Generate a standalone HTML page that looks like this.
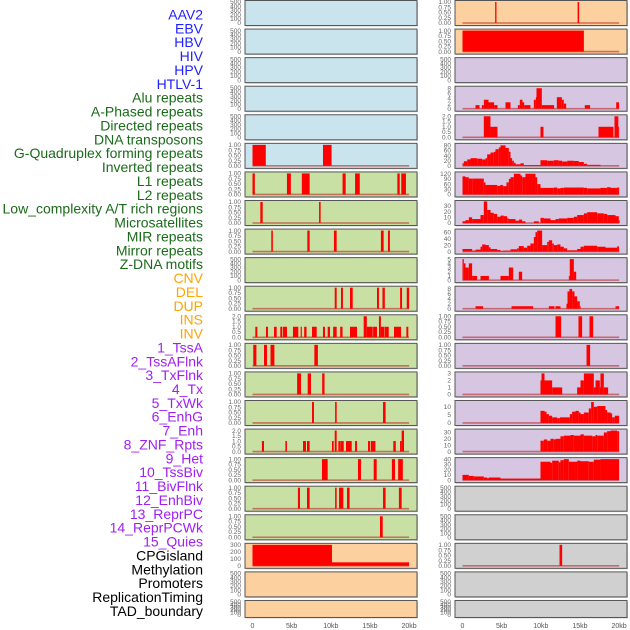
<!DOCTYPE html>
<html><head><meta charset="utf-8"><style>
html,body{margin:0;padding:0;background:#fff;}
svg{display:block;font-family:"Liberation Sans",sans-serif;}
</style></head><body>
<svg id="chart" width="630" height="630" viewBox="0 0 630 630" xmlns="http://www.w3.org/2000/svg"></svg>
<script>
const T500=['0','100','200','300','400','500'];
const T1=['0.00','0.25','0.50','0.75','1.00'];
const T2=['0.0','0.5','1.0','1.5','2.0'];
const labelNames=['AAV2','EBV','HBV','HIV','HPV','HTLV-1','Alu repeats','A-Phased repeats','Directed repeats','DNA transposons','G-Quadruplex forming repeats','Inverted repeats','L1 repeats','L2 repeats','Low_complexity A/T rich regions','Microsatellites','MIR repeats','Mirror repeats','Z-DNA motifs','CNV','DEL','DUP','INS','INV','1_TssA','2_TssAFlnk','3_TxFlnk','4_Tx','5_TxWk','6_EnhG','7_Enh','8_ZNF_Rpts','9_Het','10_TssBiv','11_BivFlnk','12_EnhBiv','13_ReprPC','14_ReprPCWk','15_Quies','CPGisland','Methylation','Promoters','ReplicationTiming','TAD_boundary'];
const labelGroups=['virus','virus','virus','virus','virus','virus','repeat','repeat','repeat','repeat','repeat','repeat','repeat','repeat','repeat','repeat','repeat','repeat','repeat','sv','sv','sv','sv','sv','chrom','chrom','chrom','chrom','chrom','chrom','chrom','chrom','chrom','chrom','chrom','chrom','chrom','chrom','chrom','other','other','other','other','other'];
// panels in column-major order (left column rows 0-21, right column rows 0-21)
const panelTicks=[T500,T500,T500,T500,T500,T1,T1,T1,T1,T500,T1,T2,T1,T1,T1,T2,T1,T1,T1,['0','100','200','300'],T500,T500,
 T1,T1,T500,['0','2','4','6','8'],T2,['0','20','40','60','80'],['0','30','60','90','120'],['0','10','20','30'],['0','20','40','60'],['0','1','2','3','4','5'],['0','2','4','6','8'],T1,T1,['0','1','2','3'],['0','5','10'],['0','10','20','30'],['0','10','20','30','40'],T500,T500,T1,T500,T500];
const panelMax=[500,500,500,500,500,1,1,1,1,500,1,2,1,1,1,2,1,1,1,300,500,500,
 1,1,500,8.2,2,82,122,37,65,5,8.5,1,1,3,13,33,40,500,500,1,500,500];
const panelBars=[
 [],[],[],[],[],
 [[0,1.7,1],[9.0,10.1,1]],
 [[0,0.3,1],[4.4,4.9,1],[6.3,7.3,1],[11.5,11.9,1],[13.1,13.7,1],[18.5,18.8,1],[19.0,19.6,1]],
 [[1.0,1.3,1],[8.5,8.7,1]],
 [[2.4,2.6,1],[7.0,7.3,1],[10.4,10.75,1],[16.4,16.75,1],[17.3,17.55,1]],
 [],
 [[10.5,10.75,1],[11.3,11.55,1],[12.45,12.8,1],[15.9,16.15,1],[16.6,16.9,1],[18.85,19.1,1],[19.7,20.0,1]],
 [[0.36,0.62,1],[1.72,1.98,1],[2.75,3.09,1],[3.55,3.81,1],[3.9,4.4,1],[5.17,5.85,1],[6.15,6.3,1],[6.6,6.9,1],[7.6,8.2,1],[9.0,9.26,1],[9.6,9.9,1],[10.3,10.75,1],[11.2,11.5,1],[12.45,13.35,1],[14.2,14.6,2],[14.6,15.35,1],[15.4,15.9,1],[16.15,16.4,2],[16.4,16.8,1],[16.85,17.4,1],[18.07,18.97,1],[19.65,19.9,1]],
 [[0.1,0.5,1],[1.47,1.85,1],[2.3,2.8,1],[7.9,8.35,1]],
 [[5.7,6.2,1],[7.05,7.47,1],[8.9,9.2,1]],
 [[7.6,7.85,1],[10.55,10.75,1],[16.67,17.0,1]],
 [[1.2,1.47,1],[4.2,4.4,1],[6.45,6.83,1],[6.96,7.3,1],[10.15,10.37,1],[10.5,10.75,2],[10.96,11.17,1],[11.2,11.65,1],[11.94,12.67,1],[13.1,13.35,1],[14.75,15.0,1],[15.1,15.7,1],[17.98,18.3,1],[18.84,19.05,1],[19.05,19.35,2]],
 [[8.87,9.6,1],[13.47,13.86,1],[15.48,15.86,1],[17.8,18.2,1],[18.6,19.2,1]],
 [[5.8,6.07,1],[6.96,7.3,1],[10.55,10.75,1],[11.05,11.6,1],[12.07,12.4,1],[16.67,17.0,1],[18.7,19.05,1]],
 [[16.28,16.63,1]],
 [[0,10.15,300],[10.15,20.0,50]],
 [],[],
 [[4.17,4.34,1],[14.7,14.9,1]],
 [[0,15.5,1]],
 [],
 [[1.66,2.17,1.4],[2.47,2.73,1.4],[2.73,3.32,3.5],[3.32,4.04,2.5],[4.04,4.47,1.4],[5.49,6.13,2.5],[7.07,7.32,1.4],[7.32,7.66,3.5],[7.66,7.88,2.5],[7.88,8.68,1.4],[9.11,9.37,3.5],[9.37,9.45,4.5],[9.45,10.13,8],[10.13,11.7,1.4],[12.05,12.69,4.5],[12.69,12.94,3.5],[12.94,13.24,2],[15.62,16.3,1.4],[19.63,20.0,2.5]],
 [[2.72,3.57,2],[3.57,4.47,1],[9.96,10.34,1],[17.37,19.28,1],[19.41,19.9,2],[19.9,20.0,1]],
 [[0,0.17,10],[0.17,0.6,18],[0.6,1.02,25],[1.02,1.87,30],[1.87,2.51,28],[2.51,2.94,25],[2.94,3.15,30],[3.15,3.58,45],[3.58,4.0,52],[4.0,4.21,55],[4.21,4.64,65],[4.64,4.85,72],[4.85,5.49,80],[5.49,5.92,70],[5.92,6.13,55],[6.13,6.34,30],[6.34,6.56,20],[6.56,6.77,12],[6.77,7.41,6],[7.41,7.83,10],[7.83,9.96,3],[9.96,10.81,22],[10.81,11.66,20],[11.66,12.3,22],[12.3,12.73,20],[12.73,13.37,17],[13.37,14.22,20],[14.22,14.86,19],[14.86,15.5,15],[15.5,15.92,8],[15.92,17.62,4]],
 [[0,0.38,105],[0.38,0.81,100],[0.81,1.23,92],[1.23,2.72,92],[2.72,2.94,70],[2.94,4.43,55],[4.43,4.85,50],[4.85,5.19,55],[5.19,5.62,48],[5.62,5.92,70],[5.92,6.13,90],[6.13,6.56,100],[6.56,7.41,120],[7.41,7.62,110],[7.62,8.04,100],[8.04,9.32,120],[9.32,9.54,100],[9.54,9.96,60],[9.96,11.66,38],[11.66,12.09,40],[12.09,12.51,35],[12.51,12.94,38],[12.94,15.5,40],[15.5,15.92,38],[15.92,17.62,35],[17.62,18.47,38],[18.47,18.9,42],[18.9,19.75,38],[19.75,20.0,40]],
 [[0,0.38,3],[0.38,0.81,5],[0.81,1.23,10],[1.23,2.3,7],[2.3,2.72,14],[2.72,3.15,38],[3.15,3.58,23],[3.58,4.0,18],[4.0,4.43,16],[4.43,4.85,11],[4.85,5.28,13],[5.28,5.7,12],[5.7,5.92,8],[5.92,6.77,7],[6.77,7.19,4],[7.19,7.62,6],[7.62,8.04,3],[9.11,9.75,3],[9.96,10.39,9],[10.39,11.24,8],[11.24,11.88,5],[11.88,12.3,7],[12.3,13.37,8],[13.37,14.22,9],[14.22,14.64,11],[14.64,15.5,14],[15.5,15.92,17],[15.92,17.2,19],[17.2,18.05,17],[18.05,18.47,16],[18.47,19.54,14],[19.54,19.96,12],[19.96,20.0,5]],
 [[0,1.23,8],[1.23,1.66,3],[1.66,2.3,6],[2.3,2.51,15],[2.51,2.94,22],[2.94,3.37,20],[3.37,3.58,13],[3.58,4.43,8],[4.43,4.85,5],[4.85,5.19,2],[5.19,6.13,3],[6.13,6.98,7],[6.98,7.19,10],[7.19,7.83,17],[7.83,8.26,12],[8.26,8.68,18],[8.68,9.11,25],[9.11,9.32,45],[9.32,9.54,60],[9.54,10.17,65],[10.17,10.81,20],[10.81,11.03,30],[11.03,11.45,35],[11.45,11.66,25],[11.66,12.09,20],[12.09,12.51,22],[12.51,12.94,15],[12.94,13.37,10],[13.37,14.64,4],[14.64,15.07,8],[15.07,15.5,15],[15.5,17.2,18],[17.2,18.26,15],[18.26,19.75,12],[19.75,20.0,16]],
 [[0,0.17,5],[0.17,0.38,4],[0.38,0.81,3],[0.81,1.23,4],[1.23,1.87,1],[2.3,3.37,1],[4.85,5.92,1],[5.92,6.47,3],[7.19,7.62,2],[13.58,13.7,1],[13.7,14.22,5],[14.22,14.52,2]],
 [[1.66,2.64,1],[6.26,9.03,1],[11.03,11.75,1],[11.88,12.51,1],[13.28,13.41,2],[13.41,13.66,7],[13.66,14.0,8],[14.0,14.3,7],[14.3,14.64,5],[14.64,14.98,3],[14.98,15.07,1],[19.54,20.0,1]],
 [[11.88,12.6,1],[14.81,15.28,1],[16.22,16.69,1]],
 [[15.84,16.3,1]],
 [[9.96,10.09,2],[10.09,10.47,3],[10.47,11.45,2],[11.45,12.73,1],[14.64,15.07,1],[15.07,15.5,2],[15.5,16.77,3],[16.77,16.99,1],[16.99,17.54,2],[17.54,17.62,1],[17.62,18.05,3],[18.05,18.6,1]],
 [[9.96,10.47,7.5],[10.47,10.73,7],[10.73,11.03,5.5],[11.03,11.45,4.5],[11.45,12.09,3.5],[12.09,12.43,3],[12.43,13.71,3.5],[13.71,14.0,5.5],[14.0,14.43,7],[14.43,14.86,7.5],[14.86,15.07,6.5],[15.07,15.5,5.5],[15.5,16.13,6.5],[16.13,16.43,9],[16.43,16.77,13],[16.77,17.2,10],[17.2,18.26,10.5],[18.26,18.47,8],[18.47,18.9,6.5],[18.9,19.11,6],[19.11,19.45,3.5],[19.45,20.0,4.5]],
 [[9.96,10.39,17],[10.39,10.81,19],[10.81,11.24,17],[11.24,11.66,20],[11.66,11.88,19],[11.88,12.51,20],[12.51,12.94,24],[12.94,13.79,25],[13.79,14.22,26],[14.22,15.07,25],[15.07,15.5,27],[15.5,16.56,25],[16.56,16.99,24],[16.99,17.2,26],[17.2,18.05,25],[18.05,18.47,30],[18.47,18.9,32],[18.9,19.75,33],[19.75,20.0,32]],
 [[0,0.81,10],[0.81,1.45,8],[1.45,2.72,7],[2.72,3.15,5],[3.15,3.37,4],[3.37,4.85,5],[4.85,9.96,3],[9.96,11.24,35],[11.24,11.45,33],[11.45,12.3,37],[12.3,12.51,34],[12.51,12.94,38],[12.94,13.58,40],[13.58,14.64,35],[14.64,15.07,37],[15.07,16.13,36],[16.13,16.77,35],[16.77,17.62,39],[17.62,20.0,40]],
 [],[],
 [[12.39,12.73,1]],
 [],[]
];
const xTickValues=[0,5,10,15,20];
const xTickLabels=['0','5kb','10kb','15kb','20kb'];

const NS='http://www.w3.org/2000/svg';
const svg=document.getElementById('chart');
const groupColor={virus:'#1f1fff',repeat:'#1a6b1a',sv:'#ffa500',chrom:'#a020f0',other:'#000'};
const groupFill={virus:'#c9e4ec',repeat:'#c8e0a4',sv:'#fdd09f',chrom:'#d6c6e2',other:'#d0d0d0'};
function mk(tag,attrs,parent){const e=document.createElementNS(NS,tag);for(const k in attrs)e.setAttribute(k,attrs[k]);(parent||svg).appendChild(e);return e;}

labelNames.forEach((n,i)=>{
  const t=mk('text',{x:203,y:(19.5+i*13.87).toFixed(1),'text-anchor':'end','font-size':'14',fill:groupColor[labelGroups[i]]});
  
  
  t.textContent=n;
});

for(let i=0;i<44;i++){
  const col=i<22?0:1,row=i%22;
  const x0=col?455:245,w=172;
  const top=row*28.57+0.5,h=row==21?17:25;
  const yT=top+1.5,yB=top+h-2.5;
  const xs=kb=>x0+7.5+kb*7.83;
  const ys=v=>yB-(v/panelMax[i])*(yB-yT);
  const g=mk('g',{});
  
  
  mk('rect',{x:x0+1,y:top+1,width:w,height:h,fill:'#999',opacity:0.5},g);
  mk('rect',{x:x0,y:top,width:w,height:h,fill:groupFill[labelGroups[i]],stroke:'#555','stroke-width':1},g);
  panelTicks[i].forEach(lbl=>{
    const t=mk('text',{x:col?451:241,y:(ys(parseFloat(lbl))+2.2).toFixed(1),'text-anchor':'end','font-size':'6.5',fill:'#666'},g);
    
    
    t.textContent=lbl;
  });
  const bars=panelBars[i];
  if(bars.length){
    const ln=mk('line',{x1:xs(0),x2:xs(20),y1:yB,y2:yB,stroke:'rgba(190,40,40,0.6)','stroke-width':1.6},g);
    
    
  }
  bars.forEach(b=>{
    const r=mk('rect',{x:xs(b[0]).toFixed(2),y:ys(b[2]).toFixed(2),width:Math.max(0.8,xs(b[1])-xs(b[0])).toFixed(2),height:(yB-ys(b[2])).toFixed(2),fill:'#ff0000'},g);
    
    
  });
}
[0,1].forEach(col=>{
  const x0=col?455:245;
  xTickValues.forEach((v,j)=>{
    const t=mk('text',{x:x0+7.5+v*7.83,y:628,'text-anchor':'middle','font-size':'7',fill:'#555'});
    
    
    t.textContent=xTickLabels[j];
  });
});
</script>
</body></html>
